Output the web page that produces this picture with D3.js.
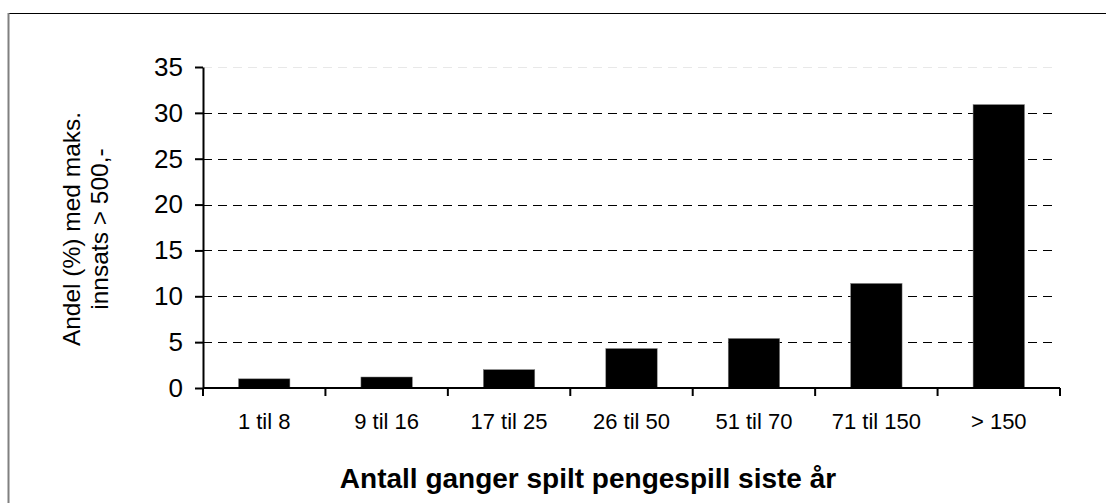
<!DOCTYPE html>
<html>
<head>
<meta charset="utf-8">
<script src="https://cdn.jsdelivr.net/npm/d3@7"></script>
<style>
  body { margin: 0; background: #fff; }
  svg { display: block; font-family: 'Liberation Sans', Arial, sans-serif; }
</style>
</head>
<body>
<div id="chart-area"></div>
<script>
// data
const categories = ['1 til 8', '9 til 16', '17 til 25', '26 til 50', '51 til 70', '71 til 150', '> 150']
const shares = [1.0, 1.2, 2.0, 4.3, 5.4, 11.4, 30.9]
const yTicks = [0, 5, 10, 15, 20, 25, 30, 35]
const yTitleLines = ['Andel (%) med maks.', 'innsats > 500,-']
const xTitle = 'Antall ganger spilt pengespill siste år'

const width = 1106
const height = 503
const margin = { top: 67, right: 46, bottom: 115, left: 203 }
const plotWidth = width - margin.left - margin.right
const plotHeight = height - margin.top - margin.bottom

const data = categories.map((c, i) => ({ category: c, share: shares[i] }))

const svg = d3.select('#chart-area')
  .append('svg')
    .attr('width', width)
    .attr('height', height)

// outer frame (top and left edges visible in the picture)
svg.append('line')
  .attr('x1', 8.5).attr('y1', 13.5).attr('x2', width).attr('y2', 13.5)
  .attr('stroke', '#000').attr('stroke-width', 1)
svg.append('line')
  .attr('x1', 8.5).attr('y1', 13).attr('x2', 8.5).attr('y2', height)
  .attr('stroke', '#808080').attr('stroke-width', 2)

const g = svg.append('g')
  .attr('transform', `translate(${margin.left}, ${margin.top})`)

const scaleX = d3.scaleBand()
  .domain(categories)
  .range([0, plotWidth])
  .paddingInner(0.58)
  .paddingOuter(0.29)

const scaleY = d3.scaleLinear()
  .domain([0, 35])
  .range([plotHeight, 0])

// dashed gridlines
g.append('g')
  .selectAll('line')
  .data(yTicks.filter(d => d > 0))
  .enter()
  .append('line')
    .attr('x1', 0)
    .attr('x2', plotWidth - 3)
    .attr('y1', d => Math.round(scaleY(d)) + 0.5)
    .attr('y2', d => Math.round(scaleY(d)) + 0.5)
    .attr('stroke', d => d === 35 ? '#e8e8e8' : '#000')
    .attr('stroke-width', 1)
    .attr('stroke-dasharray', '9,6')

// bars
g.selectAll('rect').data(data).enter()
  .append('rect')
    .attr('x', d => scaleX(d.category))
    .attr('y', d => scaleY(d.share))
    .attr('width', scaleX.bandwidth())
    .attr('height', d => plotHeight - scaleY(d.share))
    .attr('fill', '#000')
    .attr('stroke', '#808080')
    .attr('stroke-width', 0.5)

// y axis
const yAxisCall = d3.axisLeft(scaleY)
  .tickValues(yTicks)
  .tickSize(8)
  .tickPadding(12)
  .tickSizeOuter(0)
const yAxis = g.append('g').call(yAxisCall)
yAxis.select('.domain').attr('stroke-width', 2)
yAxis.selectAll('.tick line').attr('stroke-width', 2)
yAxis.selectAll('.tick text')
  .attr('font-size', 26)
  .attr('font-family', 'Liberation Sans, Arial, sans-serif')
  .attr('fill', '#000')

// x axis: ticks sit at category boundaries
const bounds = d3.range(categories.length + 1).map(i => i * scaleX.step())
const xAxis = g.append('g')
  .attr('transform', `translate(0, ${plotHeight})`)
xAxis.append('line')
  .attr('x1', 0).attr('x2', plotWidth)
  .attr('stroke', '#000').attr('stroke-width', 2)
xAxis.selectAll('.bound').data(bounds).enter()
  .append('line')
    .attr('class', 'bound')
    .attr('x1', d => d).attr('x2', d => d)
    .attr('y1', 0).attr('y2', 8)
    .attr('stroke', '#000').attr('stroke-width', 2)
xAxis.selectAll('.cat').data(categories).enter()
  .append('text')
    .attr('class', 'cat')
    .attr('x', d => scaleX(d) + scaleX.bandwidth() / 2)
    .attr('y', 41)
    .attr('text-anchor', 'middle')
    .attr('font-size', 22)
    .text(d => d)

// axis titles
svg.append('text')
  .attr('x', 588)
  .attr('y', 488)
  .attr('text-anchor', 'middle')
  .attr('font-size', 28)
  .attr('font-weight', 'bold')
  .text(xTitle)

const yTitle = svg.append('text')
  .attr('transform', 'translate(80, 229) rotate(-90)')
  .attr('text-anchor', 'middle')
  .attr('font-size', 24.5)
yTitle.selectAll('tspan').data(yTitleLines).enter()
  .append('tspan')
    .attr('x', 0)
    .attr('y', (d, i) => i * 28)
    .text(d => d)
</script>
</body>
</html>
